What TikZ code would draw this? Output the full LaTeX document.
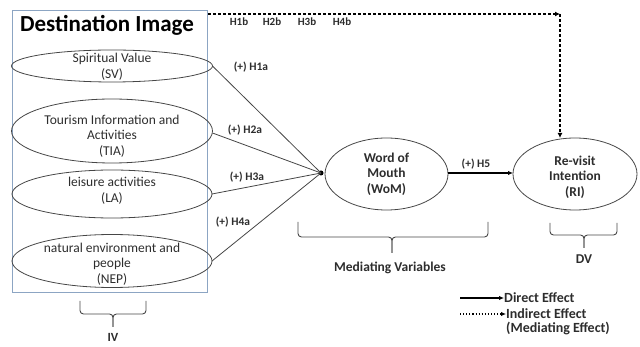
\documentclass[tikz,border=0pt]{standalone}
\usepackage{fontspec}
\setmainfont{Carlito}
\usetikzlibrary{arrows.meta,shapes.geometric}

\definecolor{framec}{RGB}{140,165,195}
\definecolor{inkc}{RGB}{45,45,45}
\definecolor{linec}{RGB}{70,70,70}

\tikzset{
  var/.style={draw=linec, line width=0.8pt, ellipse, inner sep=0pt, outer sep=0pt},
  vartext/.style={align=center, text=inkc, font=\fontsize{13.5}{15.5}\selectfont, inner sep=0pt},
  vartextb/.style={align=center, text=inkc, font=\bfseries\fontsize{13.5}{15.5}\selectfont, inner sep=0pt},
  hyp/.style={text=inkc, font=\bfseries\fontsize{11.5}{13}\selectfont, inner sep=0pt},
  hypb/.style={text=inkc, font=\bfseries\fontsize{11}{13}\selectfont, inner sep=0pt},
  path1/.style={draw=linec, line width=0.8pt},
  direct/.style={draw=black, line width=1.1pt, -{Latex[length=5pt,width=4.5pt]}},
  indirect/.style={draw=black, line width=1.3pt, dash pattern=on 3pt off 2pt, -{Latex[length=5pt,width=5pt]}},
  bracketc/.style={draw=linec, line width=0.9pt, rounded corners=3.5pt},
  bracelabel/.style={text=inkc, font=\bfseries\fontsize{13.5}{15}\selectfont, inner sep=0pt},
  legendtext/.style={text=inkc, font=\bfseries\fontsize{14}{15}\selectfont, inner sep=0pt, anchor=west},
}

\begin{document}
\begin{tikzpicture}[x=1pt,y=-1pt]
\useasboundingbox (0,0) rectangle (640,347);

% Destination image frame and title
\node[draw=framec, line width=0.9pt, minimum width=195pt, minimum height=282pt, inner sep=0pt] (dibox) at (109.5,151) {};
\node[text=black, font=\bfseries\fontsize{23}{26}\selectfont, inner sep=0pt] (dititle) at (107,25) {Destination Image};

% Independent variables
\node[var, minimum width=201pt, minimum height=32pt] (sv) at (112,66) {};
\node[vartext] (svt) at (112,67) {Spiritual Value\\(SV)};
\node[var, minimum width=201pt, minimum height=64pt] (tia) at (112,131) {};
\node[vartext] (tiat) at (112,136) {Tourism Information and\\Activities\\(TIA)};
\node[var, minimum width=200pt, minimum height=48pt] (la) at (112,194) {};
\node[vartext] (lat) at (112,191) {leisure activities\\(LA)};
\node[var, minimum width=200pt, minimum height=53pt] (nep) at (112,261) {};
\node[vartext] (nept) at (112,264) {natural environment and\\people\\(NEP)};

% Mediator and outcome
\node[var, minimum width=123pt, minimum height=72pt] (wom) at (386.5,174) {};
\node[vartextb] (womt) at (386.5,174) {Word of\\Mouth\\(WoM)};
\node[var, minimum width=124pt, minimum height=72pt] (ri) at (575,174) {};
\node[vartextb] (rit) at (575,177) {Re-visit\\Intention\\(RI)};

% Convergence point
\node[circle, fill=black, minimum size=5pt, inner sep=0pt] (hub) at (321,173) {};

% Direct paths to the mediator
\draw[path1] (sv.east) -- (hub.center);
\draw[path1] ([yshift=-2pt]tia.east) -- (hub.center);
\draw[path1] (la.east) -- (hub.center);
\draw[path1] (nep.east) -- (hub.center);

\node[hyp] (h1a) at (251,67) {(+) H1a};
\node[hyp] (h2a) at (245,130) {(+) H2a};
\node[hyp] (h3a) at (247,177) {(+) H3a};
\node[hyp] (h4a) at (233,222) {(+) H4a};

% Mediator to outcome
\draw[direct] ([yshift=1pt]wom.east) -- ([yshift=1pt]ri.west);
\node[hyp] (h5) at (476,164) {(+) H5};

% Indirect (mediating) path
\coordinate (dstart) at (208,14);
\coordinate (dturn) at (560,14);
\draw[indirect] (dstart) -- (dturn);
\draw[indirect] (dturn) -- (dturn |- ri.north);
\node[hypb] (h1b) at (239,22) {H1b};
\node[hypb] (h2b) at (272,22) {H2b};
\node[hypb] (h3b) at (307,22) {H3b};
\node[hypb] (h4b) at (342,22) {H4b};

% Group brackets
\draw[bracketc] (80,301) -- (80,314) -- (113,314) -- (113,327);
\draw[bracketc] (146,301) -- (146,314) -- (113,314) -- (113,327);
\node[bracelabel, font=\bfseries\fontsize{12.5}{14}\selectfont] (iv) at (113,337) {IV};

\draw[bracketc] (298,222) -- (298,237) -- (392,237) -- (392,253);
\draw[bracketc] (488,222) -- (488,237) -- (392,237) -- (392,253);
\node[bracelabel] (medv) at (390,268) {Mediating Variables};

\draw[bracketc] (550,223) -- (550,235) -- (584,235) -- (584,248);
\draw[bracketc] (617,223) -- (617,235) -- (584,235) -- (584,248);
\node[bracelabel] (dv) at (584,259) {DV};

% Legend
\coordinate (l1a) at (460,298);
\coordinate (l1b) at (504,298);
\draw[direct] (l1a) -- (l1b);
\node[legendtext] (l1t) at (504,298) {Direct Effect};
\coordinate (l2a) at (460,314);
\coordinate (l2b) at (506,314);
\draw[draw=black, line width=1.1pt, dotted, -{Latex[length=5pt,width=4.5pt]}] (l2a) -- (l2b);
\node[legendtext] (l2t) at (506,314) {Indirect Effect};
\node[legendtext] (l3t) at (506,328) {(Mediating Effect)};
\end{tikzpicture}
\end{document}
